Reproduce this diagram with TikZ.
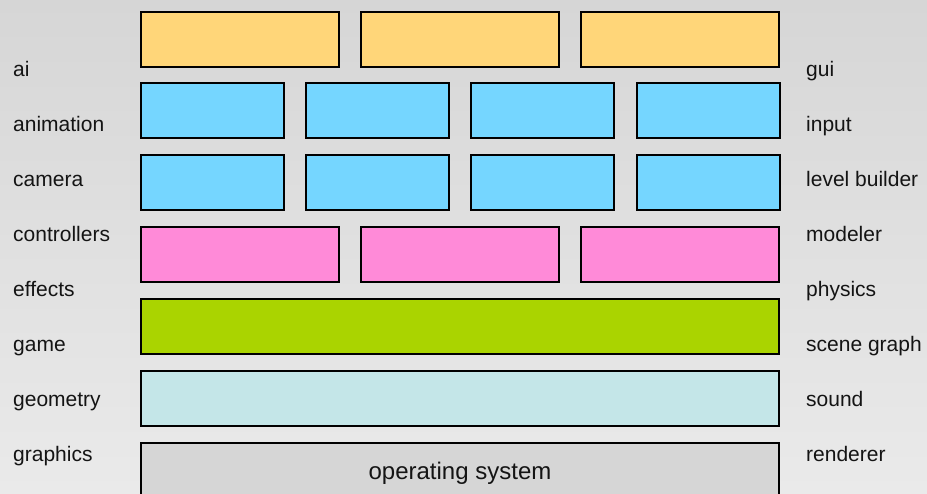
\documentclass[tikz,border=0pt]{standalone}
\usepackage{fontspec}
\setmainfont{Liberation Sans}
\definecolor{bgtop}{HTML}{D6D6D6}
\definecolor{bgbot}{HTML}{EAEAEA}
\definecolor{cyel}{HTML}{FFD679}
\definecolor{cblue}{HTML}{75D6FF}
\definecolor{cpink}{HTML}{FF8AD8}
\definecolor{cgreen}{HTML}{AAD400}
\definecolor{clblue}{HTML}{C4E6E8}
\definecolor{cgrey}{HTML}{D6D6D6}
\begin{document}
\begin{tikzpicture}[x=1pt,y=-1pt,
  layerbox/.style={draw=black, line width=2.2pt, rectangle, anchor=north west, minimum height=55pt, inner sep=0pt, outer sep=0pt},
  lbl/.style={font=\fontsize{21}{24}\selectfont, anchor=base west, inner sep=0pt, text=black!92}]
\useasboundingbox (0,0) rectangle (927,493);
\begin{scope}
\clip (0,0) rectangle (927,493);
\shade[top color=bgtop, bottom color=bgbot] (0,0) rectangle (927,493);
% yellow row
\node[layerbox, fill=cyel, minimum width=198pt] (y1) at (141,12) {};
\node[layerbox, fill=cyel, minimum width=198pt] (y2) at (361,12) {};
\node[layerbox, fill=cyel, minimum width=198pt] (y3) at (581,12) {};
% blue rows
\node[layerbox, fill=cblue, minimum width=143pt] (b11) at (141,83) {};
\node[layerbox, fill=cblue, minimum width=143pt] (b12) at (306,83) {};
\node[layerbox, fill=cblue, minimum width=143pt] (b13) at (471,83) {};
\node[layerbox, fill=cblue, minimum width=143pt] (b14) at (637,83) {};
\node[layerbox, fill=cblue, minimum width=143pt] (b21) at (141,155) {};
\node[layerbox, fill=cblue, minimum width=143pt] (b22) at (306,155) {};
\node[layerbox, fill=cblue, minimum width=143pt] (b23) at (471,155) {};
\node[layerbox, fill=cblue, minimum width=143pt] (b24) at (637,155) {};
% pink row
\node[layerbox, fill=cpink, minimum width=198pt] (p1) at (141,227) {};
\node[layerbox, fill=cpink, minimum width=198pt] (p2) at (361,227) {};
\node[layerbox, fill=cpink, minimum width=198pt] (p3) at (581,227) {};
% full-width layers
\node[layerbox, fill=cgreen, minimum width=638pt] (green) at (141,299) {};
\node[layerbox, fill=clblue, minimum width=638pt] (lblue) at (141,371) {};
\node[layerbox, fill=cgrey, minimum width=638pt, minimum height=70pt] (os) at (141,443) {};
\node[lbl, anchor=base, font=\fontsize{24}{28}\selectfont] (ostext) at (460,479) {operating system};
% left labels
\node[lbl] (l1) at (13,76) {ai};
\node[lbl] (l2) at (13,131) {animation};
\node[lbl] (l3) at (13,186) {camera};
\node[lbl] (l4) at (13,241) {controllers};
\node[lbl] (l5) at (13,296) {effects};
\node[lbl] (l6) at (13,351) {game};
\node[lbl] (l7) at (13,406) {geometry};
\node[lbl] (l8) at (13,461) {graphics};
% right labels
\node[lbl] (r1) at (806,76) {gui};
\node[lbl] (r2) at (806,131) {input};
\node[lbl] (r3) at (806,186) {level builder};
\node[lbl] (r4) at (806,241) {modeler};
\node[lbl] (r5) at (806,296) {physics};
\node[lbl] (r6) at (806,351) {scene graph};
\node[lbl] (r7) at (806,406) {sound};
\node[lbl] (r8) at (806,461) {renderer};
\end{scope}
\end{tikzpicture}
\end{document}
